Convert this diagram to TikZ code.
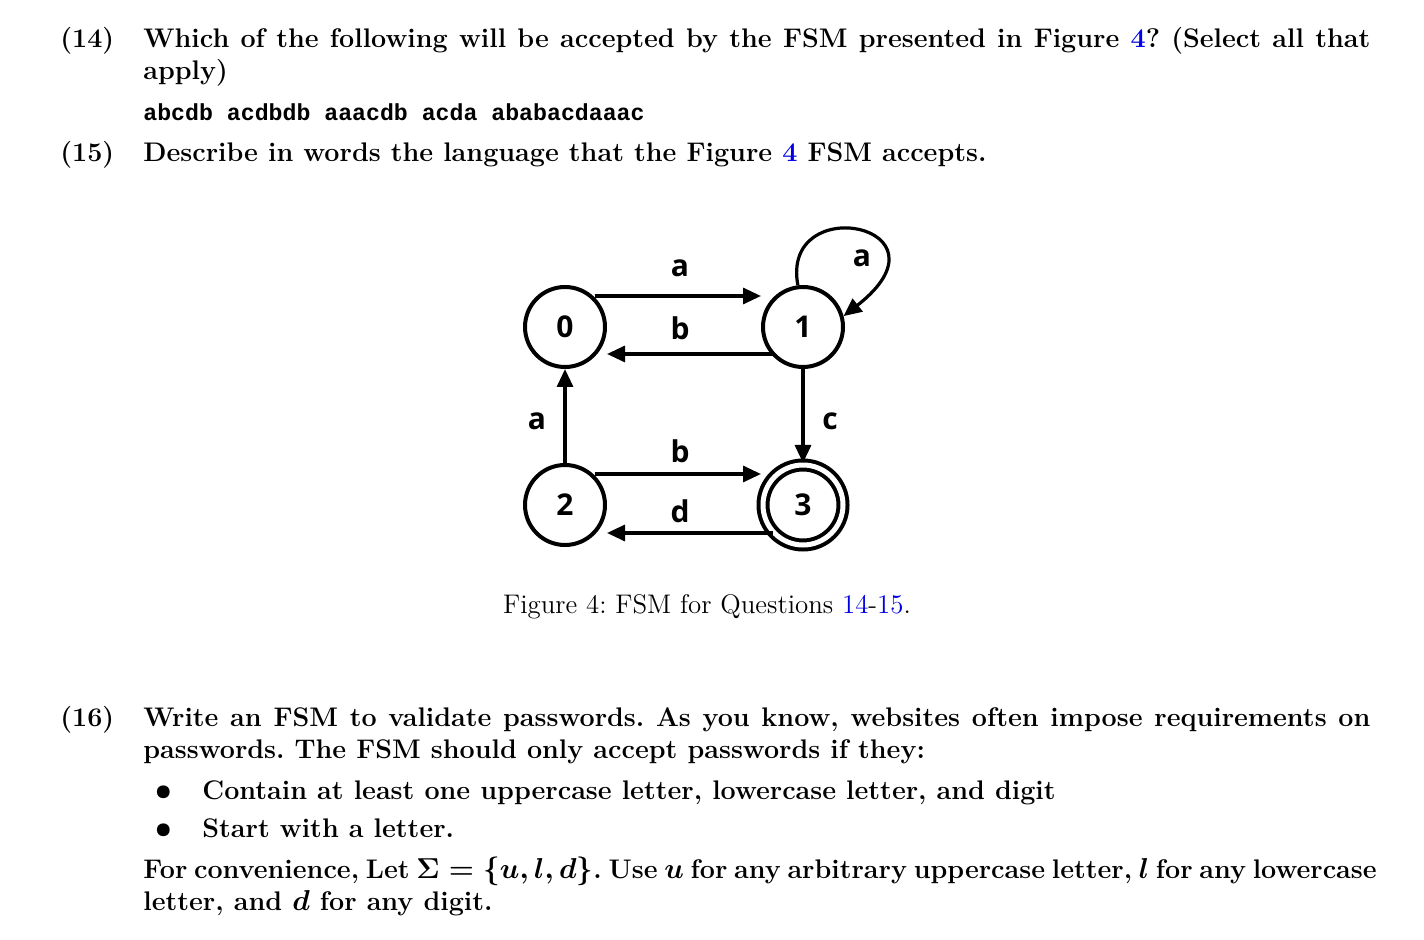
\documentclass[tikz,border=0pt]{standalone}
\usepackage{fontspec}
\setmonofont{Liberation Mono}
\newfontfamily\diagfont{Open Sans}
\usetikzlibrary{arrows.meta}
\definecolor{lnk}{RGB}{0,0,230}
\frenchspacing
\begin{document}
\begin{tikzpicture}[x=0.5pt,y=-0.5pt,
  txt/.style={anchor=base west,inner sep=0,font=\fontsize{13.45}{16}\selectfont\bfseries\boldmath\frenchspacing},
  captext/.style={anchor=base,inner sep=0,font=\fontsize{13.45}{16}\selectfont},
  st/.style={circle,draw,line width=2pt,minimum size=40pt,inner sep=0,font=\diagfont\bfseries\fontsize{15}{17}\selectfont},
  lab/.style={inner sep=0,font=\diagfont\bfseries\fontsize{15}{17}\selectfont},
  ed/.style={line width=1.6pt,-{Triangle[length=9pt,width=8pt]}}]
\useasboundingbox (0,0) rectangle (1424,940);
\node[txt] (q14) at (60,48) {(14)};
\node[txt] (l1) at (143,48) {\makebox[613.5pt][s]{Which of the following will be accepted by the FSM presented in Figure \textcolor{lnk}{4}? (Select all that}};
\node[txt] (l2) at (143,80) {apply)};
\node[txt] (l3) at (143,121) {\ttfamily\fontsize{11.6}{13}\selectfont abcdb acdbdb aaacdb acda ababacdaaac};
\node[txt] (q15) at (60,162) {(15)};
\node[txt] (l4) at (143,162) {Describe in words the language that the Figure \textcolor{lnk}{4} FSM accepts.};
\node[st] (n0) at (565,327) {0};
\node[st] (n1) at (803,327) {1};
\node[st] (n2) at (565,505) {2};
\node[st,double,double distance=2.5pt] (n3) at (803,505) {3};
\draw[ed] (n0.north east |- 0,296) -- (n1.west |- 0,296);
\draw[ed] (n1.south west |- 0,354) -- (n0.east |- 0,354);
\draw[ed] (n2.north east |- 0,474) -- (n3.west |- 0,474);
\draw[ed] (n3.south west |- 0,533) -- (n2.east |- 0,533);
\draw[ed] (n2) -- (n0);
\draw[ed] (n1) -- (n3);
\draw[ed] (n1.97) .. controls (780,190) and (960,225) .. (n1.15);
\node[lab] (la1) at (680,268) {a};
\node[lab] (lb1) at (680,328) {b};
\node[lab] (la2) at (862,258) {a};
\node[lab] (la3) at (537,421) {a};
\node[lab] (lc) at (830,421) {c};
\node[lab] (lb2) at (680,451) {b};
\node[lab] (ld) at (680,511) {d};
\node[captext] (capt) at (707,614) {Figure 4: FSM for Questions \textcolor{lnk}{14}-\textcolor{lnk}{15}.};
\node[txt] (q16) at (60,726) {(16)};
\node[txt] (l5) at (143,726) {\makebox[613.5pt][s]{Write an FSM to validate passwords. As you know, websites often impose requirements on}};
\node[txt] (l6) at (143,758) {passwords. The FSM should only accept passwords if they:};
\node[txt] (b1) at (155,799) {$\bullet$};
\node[txt] (i1) at (202,799) {Contain at least one uppercase letter, lowercase letter, and digit};
\node[txt] (b2) at (155,837) {$\bullet$};
\node[txt] (i2) at (202,837) {Start with a letter.};
\node[txt] (l7) at (143,878) {\makebox[613.5pt][s]{For convenience, Let $\Sigma=\{u,l,d\}$. Use $u$ for any arbitrary uppercase letter, $l$ for any lowercase}};
\node[txt] (l8) at (143,910) {letter, and $d$ for any digit.};
\end{tikzpicture}
\end{document}
